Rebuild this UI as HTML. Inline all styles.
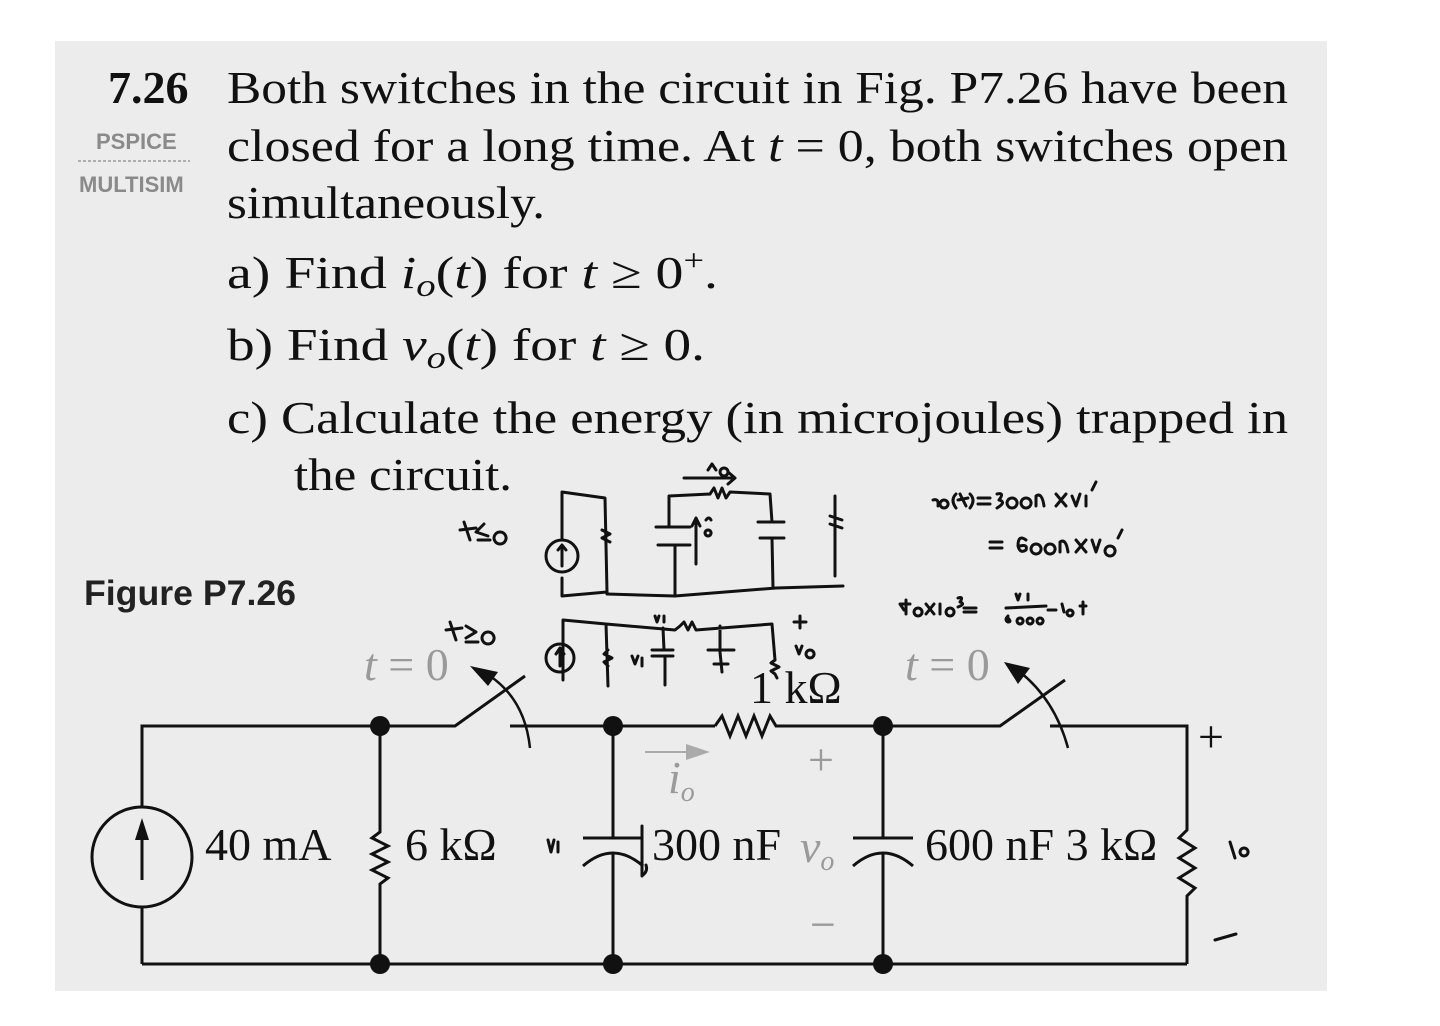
<!DOCTYPE html>
<html><head><meta charset="utf-8"><style>
html,body{margin:0;padding:0;background:#fff;}
svg{display:block}
.t{font-family:"Liberation Serif",serif;font-size:46px;fill:#111}
.g{fill:#9a9a9a}
.s{font-family:"Liberation Sans",sans-serif}
.hw{fill:none;stroke:#111;stroke-width:3;stroke-linecap:round;stroke-linejoin:round}
.w{fill:none;stroke:#111;stroke-width:3}
</style></head><body>
<svg width="1440" height="1026" viewBox="0 0 1440 1026" xmlns="http://www.w3.org/2000/svg">
<rect x="55" y="41" width="1272" height="950" fill="#ececec"/>
<!-- problem text -->
<text x="108" y="103" class="t" font-weight="bold" font-size="44">7.26</text>
<text x="227" y="103" class="t" textLength="1061" lengthAdjust="spacingAndGlyphs">Both switches in the circuit in Fig. P7.26 have been</text>
<text x="227" y="161" class="t" textLength="1061" lengthAdjust="spacingAndGlyphs">closed for a long time. At <tspan font-style="italic">t</tspan> = 0, both switches open</text>
<text x="227" y="218" class="t" textLength="318" lengthAdjust="spacingAndGlyphs">simultaneously.</text>
<text x="227" y="288" class="t" textLength="491" lengthAdjust="spacingAndGlyphs">a)  Find <tspan font-style="italic">i</tspan><tspan font-style="italic" font-size="32" dy="8">o</tspan><tspan dy="-8">(</tspan><tspan font-style="italic">t</tspan>) for <tspan font-style="italic">t</tspan> ≥ 0<tspan font-size="30" dy="-18">+</tspan><tspan dy="18">.</tspan></text>
<text x="227" y="360" class="t" textLength="478" lengthAdjust="spacingAndGlyphs">b)  Find <tspan font-style="italic">v</tspan><tspan font-style="italic" font-size="32" dy="8">o</tspan><tspan dy="-8">(</tspan><tspan font-style="italic">t</tspan>) for <tspan font-style="italic">t</tspan> ≥ 0.</text>
<text x="227" y="433" class="t" textLength="1061" lengthAdjust="spacingAndGlyphs">c)  Calculate the energy (in microjoules) trapped in</text>
<text x="294" y="490" class="t" textLength="218" lengthAdjust="spacingAndGlyphs">the circuit.</text>
<text x="96" y="149" class="s" font-size="22" font-weight="bold" fill="#8a8a8a">PSPICE</text>
<line x1="78" y1="161" x2="190" y2="161" stroke="#999" stroke-width="1.5" stroke-dasharray="3,2"/>
<text x="79" y="192" class="s" font-size="22" font-weight="bold" fill="#8a8a8a">MULTISIM</text>
<text x="84" y="605" class="s" font-size="35" font-weight="bold" fill="#222" textLength="212" lengthAdjust="spacingAndGlyphs">Figure P7.26</text>

<!-- circuit -->
<g class="w">
<polyline points="142,807 142,726 380,726 455,726 525,676"/>
<polyline points="510,726 715,726"/>
<polyline points="780,726 883,726"/>
<line x1="142" y1="907" x2="142" y2="964"/>
<line x1="142" y1="964" x2="1187" y2="964"/>
<polyline points="883,726 1000,726 1065,680"/>
<polyline points="1050,726 1187,726 1187,830 1179,838 1195,848 1179,858 1195,868 1179,878 1195,888 1187,896 1187,964"/>
<circle cx="142" cy="857" r="50"/>
<polyline points="380,726 380,832 372,838 388,846 372,854 388,862 372,870 388,878 380,884 380,964"/>
<line x1="613" y1="726" x2="613" y2="838"/><line x1="583" y1="838" x2="643" y2="838"/>
<path d="M583,866 Q613,840 643,866"/><line x1="613" y1="852" x2="613" y2="964"/>
<line x1="883" y1="726" x2="883" y2="838"/><line x1="853" y1="838" x2="913" y2="838"/>
<path d="M853,866 Q883,840 913,866"/><line x1="883" y1="852" x2="883" y2="964"/>
<polyline points="715,726 722,716 730,736 738,716 746,736 754,716 762,736 770,716 776,726 782,726"/>
<path d="M490,676 Q525,700 530,748" stroke-width="2.5"/>
<path d="M1020,672 Q1055,700 1068,748" stroke-width="2.5"/>
</g>
<line x1="142" y1="880" x2="142" y2="830" stroke="#111" stroke-width="3"/>
<polygon points="142,818 135,840 149,840" fill="#111"/>
<polygon points="470,666 498,672 488,686" fill="#111"/>
<polygon points="1004,662 1030,668 1018,684" fill="#111"/>
<g fill="#111">
<circle cx="380" cy="726" r="10"/><circle cx="613" cy="726" r="10"/><circle cx="883" cy="726" r="10"/>
<circle cx="380" cy="964" r="10"/><circle cx="613" cy="964" r="10"/><circle cx="883" cy="964" r="10"/>
</g>
<line x1="645" y1="752" x2="690" y2="752" stroke="#aaa" stroke-width="2"/>
<polygon points="710,752 686,744 686,760" fill="#aaa"/>
<text x="668" y="793" class="t g" font-style="italic" font-size="40">i<tspan font-size="28" dy="8">o</tspan></text>
<text x="808" y="775" class="t g" font-size="36">+</text>
<text x="810" y="940" class="t g" font-size="36">−</text>
<text x="800" y="862" class="t g" font-style="italic" font-size="40">v<tspan font-size="28" dy="8">o</tspan></text>
<text x="364" y="680" class="t g" font-size="40"><tspan font-style="italic">t</tspan> = 0</text>
<text x="905" y="680" class="t g" font-size="40"><tspan font-style="italic">t</tspan> = 0</text>
<text x="205" y="860" class="t" font-size="40">40 mA</text>
<text x="405" y="860" class="t" font-size="40">6 kΩ</text>
<text x="652" y="860" class="t" font-size="40">300 nF</text>
<text x="925" y="860" class="t" font-size="40">600 nF 3 kΩ</text>
<text x="750" y="703" class="t" font-size="40">1 kΩ</text>
<text x="1198" y="752" class="t" font-size="36">+</text>

<!-- handwriting -->
<g class="hw">
<path d="M1230,842 L1235,858 M1244,848 a4,4 0 1,0 0.1,0"/>
<path d="M1215,940 L1236,934"/>
<path d="M548,840 L551,852 L554,840 M558,842 L558,852"/>
<path d="M642,826 L642,876 M646,865 q2,6 -3,10"/>
<path d="M464,522 L470,540 M460,530 L476,528 M484,524 L476,532 L488,536 M478,540 L490,540 M500,532 a6,6 0 1,0 0.1,0"/>
<path d="M450,622 L456,640 M446,630 L462,628 M466,626 L476,632 L466,638 M466,642 L478,642 M488,632 a6,6 0 1,0 0.1,0"/>
<path d="M562,540 L562,492 L605,498 L607,592 L562,596 L562,578 M546,556 a16,16 0 1,0 32,0 a16,16 0 1,0 -32,0 M562,566 L562,546 M558,550 L562,545 L566,550"/>
<path d="M602,530 l8,4 l-8,4 l8,4"/>
<path d="M607,594 L675,596 L776,588 L843,586"/>
<path d="M675,596 L675,545 M658,545 L690,545 M656,527 L690,527 M669,527 L669,496 L710,494 M710,494 l4,-6 l4,10 l4,-10 l4,10 l4,-6 L770,494 L772,522 M758,522 L784,522 M760,538 L784,538 M772,538 L773,588"/>
<path d="M696,564 L696,520 M692,526 L696,518 L700,526 M706,520 q3,-4 5,0 M708,530 a3,3 0 1,0 0.1,0"/>
<path d="M684,478 L735,478 L728,472 M735,478 L728,484 M708,470 l4,-6 l4,6 M724,468 a4,4 0 1,0 0.1,0"/>
<path d="M835,496 L835,576 M830,516 L842,520 M830,524 L842,528"/>
<path d="M563,680 L563,620 L606,624 M606,624 L608,686 M608,650 l-4,4 l8,4 l-8,4 l4,4 M606,624 L675,630 L680,626 M680,626 l4,-4 l4,8 l4,-8 l4,8 L772,624 L775,660 M775,660 l-4,3 l8,4 l-8,4 l4,3 L777,678 M720,626 L720,650 M708,650 L734,650 M720,652 L722,672 M714,664 L728,664"/>
<path d="M546,658 a14,14 0 1,0 28,0 a14,14 0 1,0 -28,0 M560,666 L560,650 M556,654 L560,648 L564,654"/>
<path d="M663,628 L664,650 M652,650 L673,650 M652,656 L673,656 M665,656 L665,685 M632,656 l3,8 l3,-8 M642,658 L642,666"/>
<path d="M655,616 l2,6 l2,-6 M664,616 L664,622"/>
<path d="M794,622 L806,622 M800,616 L800,628 M796,646 l3,8 l3,-8 M810,650 a4,4 0 1,0 0.1,0"/>
<path d="M933,500 q6,-2 5,6 M944,500 a4,4 0 1,0 0.1,0 M956,494 q-6,6 0,14 M960,494 L966,506 M958,500 L968,498 M970,494 q6,6 0,14 M978,498 L990,498 M978,504 L990,504"/>
<path d="M997,494 q8,-2 2,6 q8,2 -2,8 M1012,498 a5,5 0 1,0 0.1,0 M1026,498 a5,5 0 1,0 0.1,0 M1036,506 L1036,496 q6,-4 8,10 M1056,494 L1066,506 M1066,494 L1056,506 M1072,496 L1076,506 L1080,494 M1086,496 L1086,506 M1092,490 L1096,482"/>
<path d="M990,542 L1002,542 M990,548 L1002,548 M1026,540 q-8,-6 -8,6 q2,8 8,4 q2,-6 -6,-4 M1036,544 a5,5 0 1,0 0.1,0 M1050,544 a5,5 0 1,0 0.1,0 M1060,552 L1060,542 q6,-4 8,10 M1076,540 L1086,552 M1086,540 L1076,552 M1092,540 L1096,552 L1100,540 M1110,546 a5,5 0 1,0 0.1,0 M1118,538 L1122,530"/>
<path d="M904,610 L900,604 L910,604 M906,600 L906,614 M918,608 a4,4 0 1,0 0.1,0 M926,604 L934,614 M934,604 L926,614 M940,604 L940,614 M950,608 a4,4 0 1,0 0.1,0 M958,598 q6,-2 2,4 q6,2 -2,5 M964,608 L976,608 M964,612 L976,612"/>
<path d="M1006,608 L1046,606 M1016,594 l2,6 l2,-6 M1028,594 L1028,600 M1008,616 q-4,4 0,6 q4,0 0,-4 M1020,618 a3,3 0 1,0 0.1,0 M1030,618 a3,3 0 1,0 0.1,0 M1040,618 a3,3 0 1,0 0.1,0 M1048,610 L1056,610 M1062,604 L1064,612 M1070,610 a3,3 0 1,0 0.1,0 M1080,606 L1086,606 M1083,602 L1083,614"/>
</g>
</svg>
</body></html>
